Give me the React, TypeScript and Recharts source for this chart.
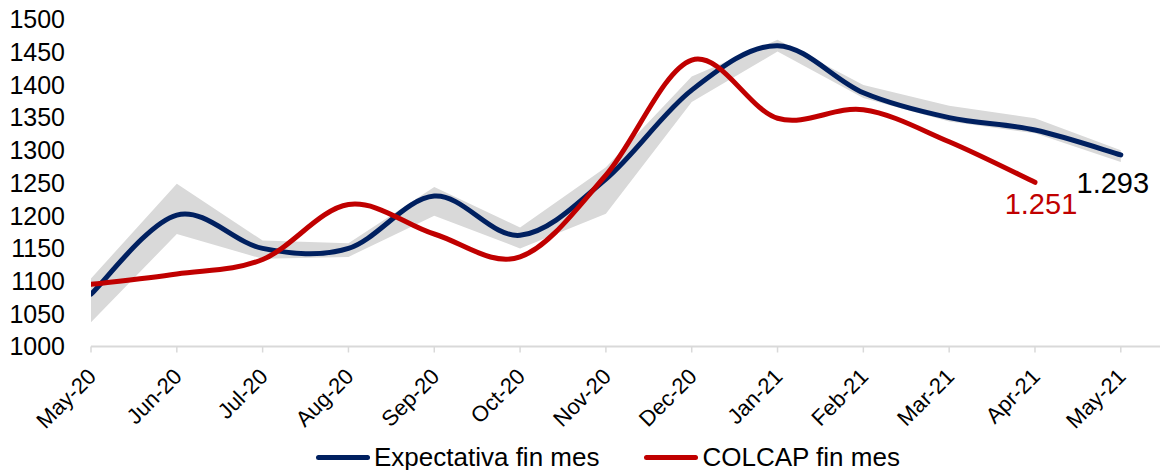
import React from 'react'
import {
  ComposedChart,
  Area,
  Line,
  XAxis,
  YAxis,
  Legend,
} from 'recharts'

const months = ['May-20', 'Jun-20', 'Jul-20', 'Aug-20', 'Sep-20', 'Oct-20', 'Nov-20', 'Dec-20', 'Jan-21', 'Feb-21', 'Mar-21', 'Apr-21', 'May-21']
const expectativa = [1080, 1201, 1150, 1150, 1230, 1170, 1256, 1392, 1460, 1388, 1350, 1331, 1293]
const colcap: (number | null)[] = [1095, 1111, 1133, 1217, 1172, 1137, 1262, 1438, 1349, 1362, 1313, 1251, null]
const rangoMin = [1037, 1172, 1134, 1137, 1200, 1150, 1203, 1374, 1451, 1380, 1344, 1326, 1282]
const rangoMax = [1104, 1249, 1162, 1158, 1244, 1182, 1274, 1413, 1469, 1400, 1368, 1349, 1300]
const yTicks = [1000, 1050, 1100, 1150, 1200, 1250, 1300, 1350, 1400, 1450, 1500]

const BLUE = '#002060'
const RED = '#C00000'
const BAND = '#D9D9D9'
const FONT = '"Liberation Sans", Arial, sans-serif'

const data = months.map((m, i) => ({
  i,
  month: m,
  expectativa: expectativa[i],
  colcap: colcap[i],
  rango: [rangoMin[i], rangoMax[i]],
}))

// Excel-like smoothing (catmull-rom style bezier, 1/6 tangents)
const excelCurve = (context: any) => {
  let pts: number[][] = []
  return {
    areaStart() {},
    areaEnd() {},
    lineStart() {
      pts = []
    },
    point(x: number, y: number) {
      pts.push([+x, +y])
    },
    lineEnd() {
      if (!pts.length) return
      context.moveTo(pts[0][0], pts[0][1])
      for (let k = 0; k < pts.length - 1; k++) {
        const p0 = pts[k - 1] || pts[k]
        const p1 = pts[k]
        const p2 = pts[k + 1]
        const p3 = pts[k + 2] || p2
        context.bezierCurveTo(
          p1[0] + (p2[0] - p0[0]) / 6,
          p1[1] + (p2[1] - p0[1]) / 6,
          p2[0] - (p3[0] - p1[0]) / 6,
          p2[1] - (p3[1] - p1[1]) / 6,
          p2[0],
          p2[1],
        )
      }
    },
  }
}

const fmt = (v: number) => {
  const s = String(Math.round(v))
  return s.length > 3 ? s.slice(0, -3) + '.' + s.slice(-3) : s
}

function XTick({ x, y, payload }: any) {
  const tx = x + 1
  const ty = y + 18
  return (
    <text
      x={tx}
      y={ty}
      transform={`rotate(-45 ${tx} ${ty})`}
      textAnchor="end"
      dy="0.35em"
      fontSize={22}
      fontFamily={FONT}
      fill="#000"
    >
      {months[payload.value]}
    </text>
  )
}

function lastLabel(series: (number | null)[], color: string, dx: number, dy: number) {
  let last = -1
  series.forEach((v, k) => {
    if (v != null) last = k
  })
  return (props: any) => {
    const { x, y, index, value } = props
    if (index !== last) return <g key={index} />
    return (
      <text key={index} x={x + dx} y={y + dy} textAnchor="middle" fontSize={29} fontFamily={FONT} fill={color}>
        {fmt(value)}
      </text>
    )
  }
}

function LegendContent() {
  const item = (color: string, text: string, gap: number) => (
    <div style={{ display: 'flex', alignItems: 'center', marginRight: gap }}>
      <div style={{ width: 54, height: 5, borderRadius: 3, background: color, marginRight: 4 }} />
      <span style={{ fontSize: 26, fontFamily: FONT, color: '#000', lineHeight: '30px' }}>{text}</span>
    </div>
  )
  return (
    <div style={{ display: 'flex', height: 30, paddingLeft: 308, transform: 'translateY(2px)' }}>
      {item(BLUE, 'Expectativa fin mes', 45)}
      {item(RED, 'COLCAP fin mes', 0)}
    </div>
  )
}

export default function App() {
  return (
    <div style={{ width: 1160, height: 470, marginTop: -8 }}>
      <ComposedChart width={1160} height={470} data={data} margin={{ top: 19.5, right: 0, bottom: 0, left: 0 }}>
        <XAxis
          type="number"
          dataKey="i"
          domain={[0, 12.55]}
          ticks={months.map((_, k) => k)}
          allowDataOverflow
          interval={0}
          tick={<XTick />}
          height={93.5}
          axisLine={{ stroke: BAND, strokeWidth: 2 }}
          tickLine={{ stroke: BAND, strokeWidth: 1.5 }}
          tickSize={6}
        />
        <YAxis
          domain={[1000, 1500]}
          ticks={yTicks}
          interval={0}
          width={83}
          axisLine={false}
          tickLine={false}
          tickMargin={20}
          tick={{ fontSize: 25, fill: '#000', fontFamily: FONT }}
        />
        <Legend verticalAlign="bottom" content={<LegendContent />} />
        <Area
          dataKey="rango"
          type="linear"
          stroke="none"
          fill={BAND}
          fillOpacity={1}
          isAnimationActive={false}
          legendType="none"
        />
        <Line
          dataKey="expectativa"
          type={excelCurve as any}
          stroke={BLUE}
          strokeWidth={5}
          strokeLinecap="round"
          dot={false}
          activeDot={false}
          isAnimationActive={false}
          label={lastLabel(expectativa, '#000', -8, 38)}
        />
        <Line
          dataKey="colcap"
          type={excelCurve as any}
          stroke={RED}
          strokeWidth={5}
          strokeLinecap="round"
          dot={false}
          activeDot={false}
          isAnimationActive={false}
          label={lastLabel(colcap, RED, 6, 32)}
        />
      </ComposedChart>
    </div>
  )
}
